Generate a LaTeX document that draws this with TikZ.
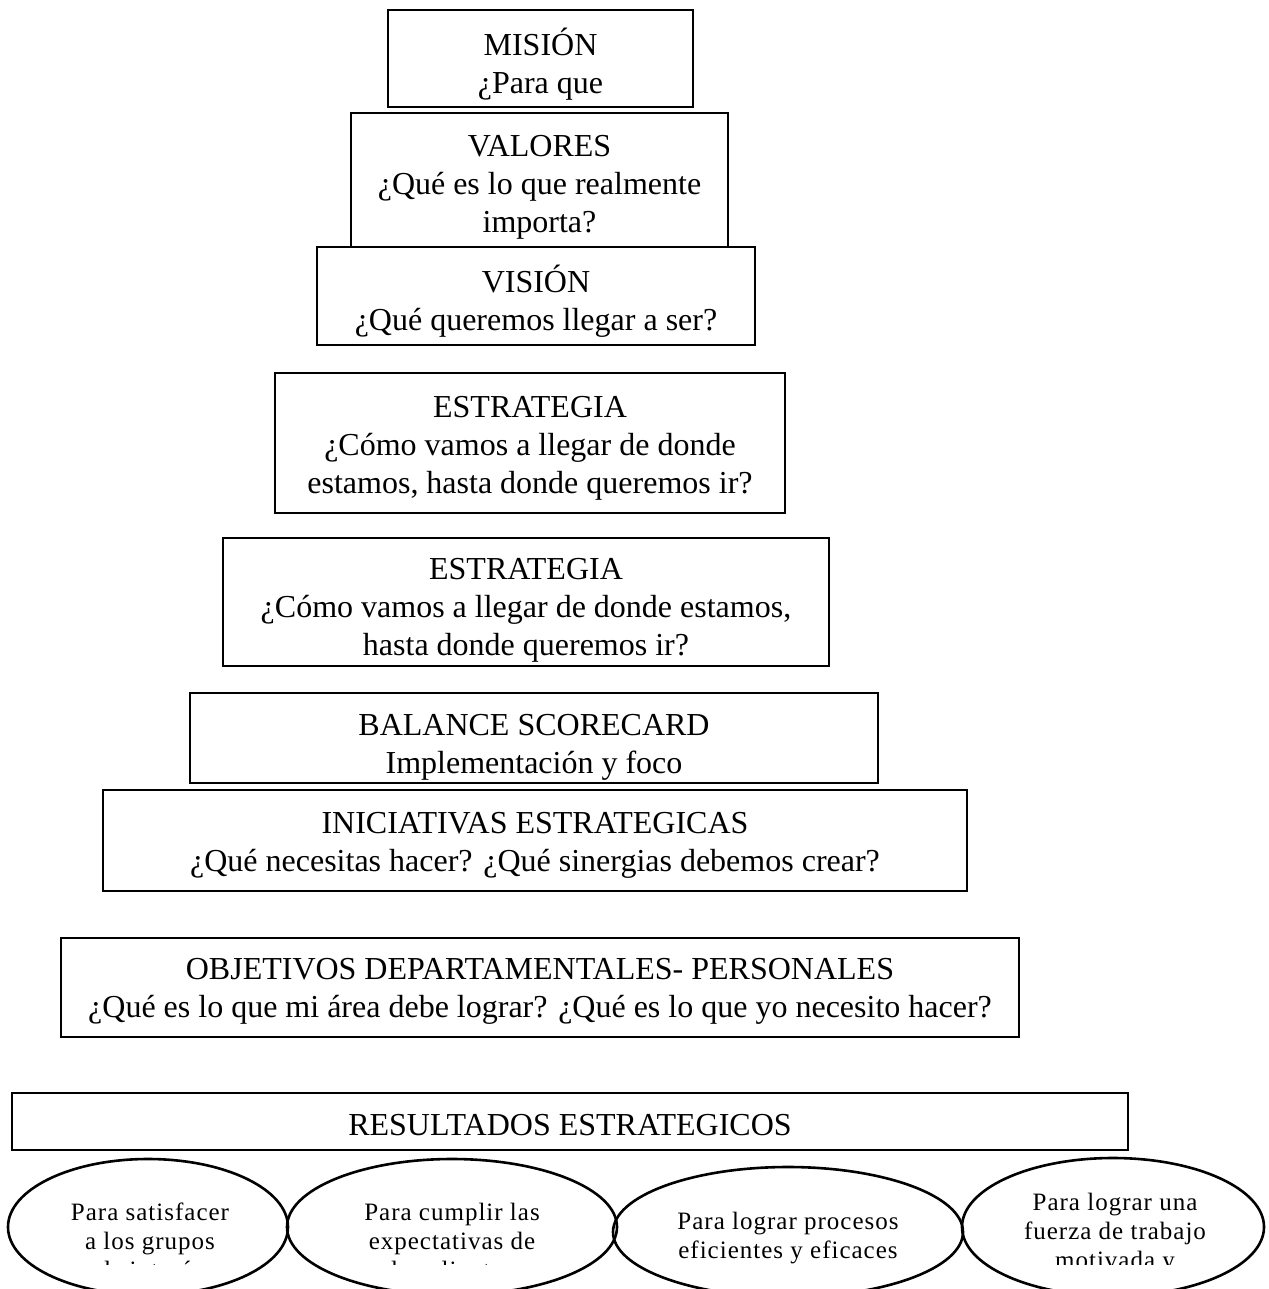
\documentclass[tikz,border=0pt]{standalone}
\usepackage{fontspec}
\setmainfont{Liberation Serif}
\usetikzlibrary{shapes.geometric}
\begin{document}
\begin{tikzpicture}[x=1pt,y=-1pt,
  tier/.style={draw, line width=1.4pt, fill=white, inner sep=0pt},
  tiertext/.style={align=center, inner sep=0pt, font=\fontsize{32}{38}\selectfont},
  goal/.style={draw, ellipse, line width=2.6pt, inner sep=0pt},
  goaltext/.style={align=center, inner sep=0pt, anchor=base,
    font=\fontsize{25}{29}\selectfont\addfontfeatures{LetterSpace=4}}]
\useasboundingbox[fill=white] (0,0) rectangle (1268,1289);

% stacked tiers of the pyramid, top to bottom
\node[tier, minimum width=305pt, minimum height=97pt] (mision) at (540.5,58.5) {};
\node[tier, minimum width=377pt, minimum height=134pt] (valores) at (539.5,180) {};
\node[tier, minimum width=438pt, minimum height=98pt] (vision) at (536,296) {};
\node[tier, minimum width=510pt, minimum height=140pt] (estrategiaA) at (530,443) {};
\node[tier, minimum width=606pt, minimum height=128pt] (estrategiaB) at (526,602) {};
\node[tier, minimum width=688pt, minimum height=90pt] (balance) at (534,738) {};
\node[tier, minimum width=864pt, minimum height=101pt] (iniciativas) at (535,840.5) {};
\node[tier, minimum width=958pt, minimum height=99pt] (objetivos) at (540,987.5) {};
\node[tier, minimum width=1116pt, minimum height=57pt] (resultados) at (570,1121.5) {};

% tier captions
\node[tiertext, yshift=-6pt] (mT) at (mision) {MISIÓN\\¿Para que};
\node[tiertext, yshift=-7pt] (vT) at (valores) {VALORES\\¿Qué es lo que realmente\\importa?};
\node[tiertext, yshift=-5pt] (viT) at (vision) {VISIÓN\\¿Qué queremos llegar a ser?};
\node[tiertext, yshift=-5pt] (eAT) at (estrategiaA)
  {ESTRATEGIA\\¿Cómo vamos a llegar de donde\\estamos, hasta donde queremos ir?};
\node[tiertext, yshift=-8pt] (eBT) at (estrategiaB)
  {ESTRATEGIA\\¿Cómo vamos a llegar de donde estamos,\\hasta donde queremos ir?};
\node[tiertext, yshift=-9pt] (bT) at (balance) {BALANCE SCORECARD\\Implementación y foco};
\node[tiertext, yshift=-5pt] (iT) at (iniciativas)
  {INICIATIVAS ESTRATEGICAS\\¿Qué necesitas hacer? ¿Qué sinergias debemos crear?};
\node[tiertext, yshift=-4pt] (oT) at (objetivos)
  {OBJETIVOS DEPARTAMENTALES- PERSONALES\\¿Qué es lo que mi área debe lograr? ¿Qué es lo que yo necesito hacer?};
\node[tiertext, yshift=-4pt] (rT) at (resultados) {RESULTADOS ESTRATEGICOS};

% four result ellipses
\node[goal, minimum width=280pt, minimum height=136pt] (clientesA) at (148,1227) {};
\node[goal, minimum width=330pt, minimum height=136pt] (clientesB) at (452,1227) {};
\node[goal, minimum width=350pt, minimum height=130pt] (procesos) at (788,1232) {};
\node[goal, minimum width=302pt, minimum height=138pt] (personas) at (1113,1227) {};

% ellipse captions (base = last line), cut off by their text frame
\begin{scope}
  \clip (0,0) rectangle (1268,1264);
  \node[goaltext] (tA) at (150,1278) {Para satisfacer\\a los grupos\\de interés};
  \node[goaltext] (tB) at (452,1278) {Para cumplir las\\expectativas de\\los clientes};
  \node[goaltext] (tC) at (788,1258) {Para lograr procesos\\eficientes y eficaces};
  \node[goaltext] (tD) at (1115,1268) {Para lograr una\\fuerza de trabajo\\motivada y};
\end{scope}
\end{tikzpicture}
\end{document}
